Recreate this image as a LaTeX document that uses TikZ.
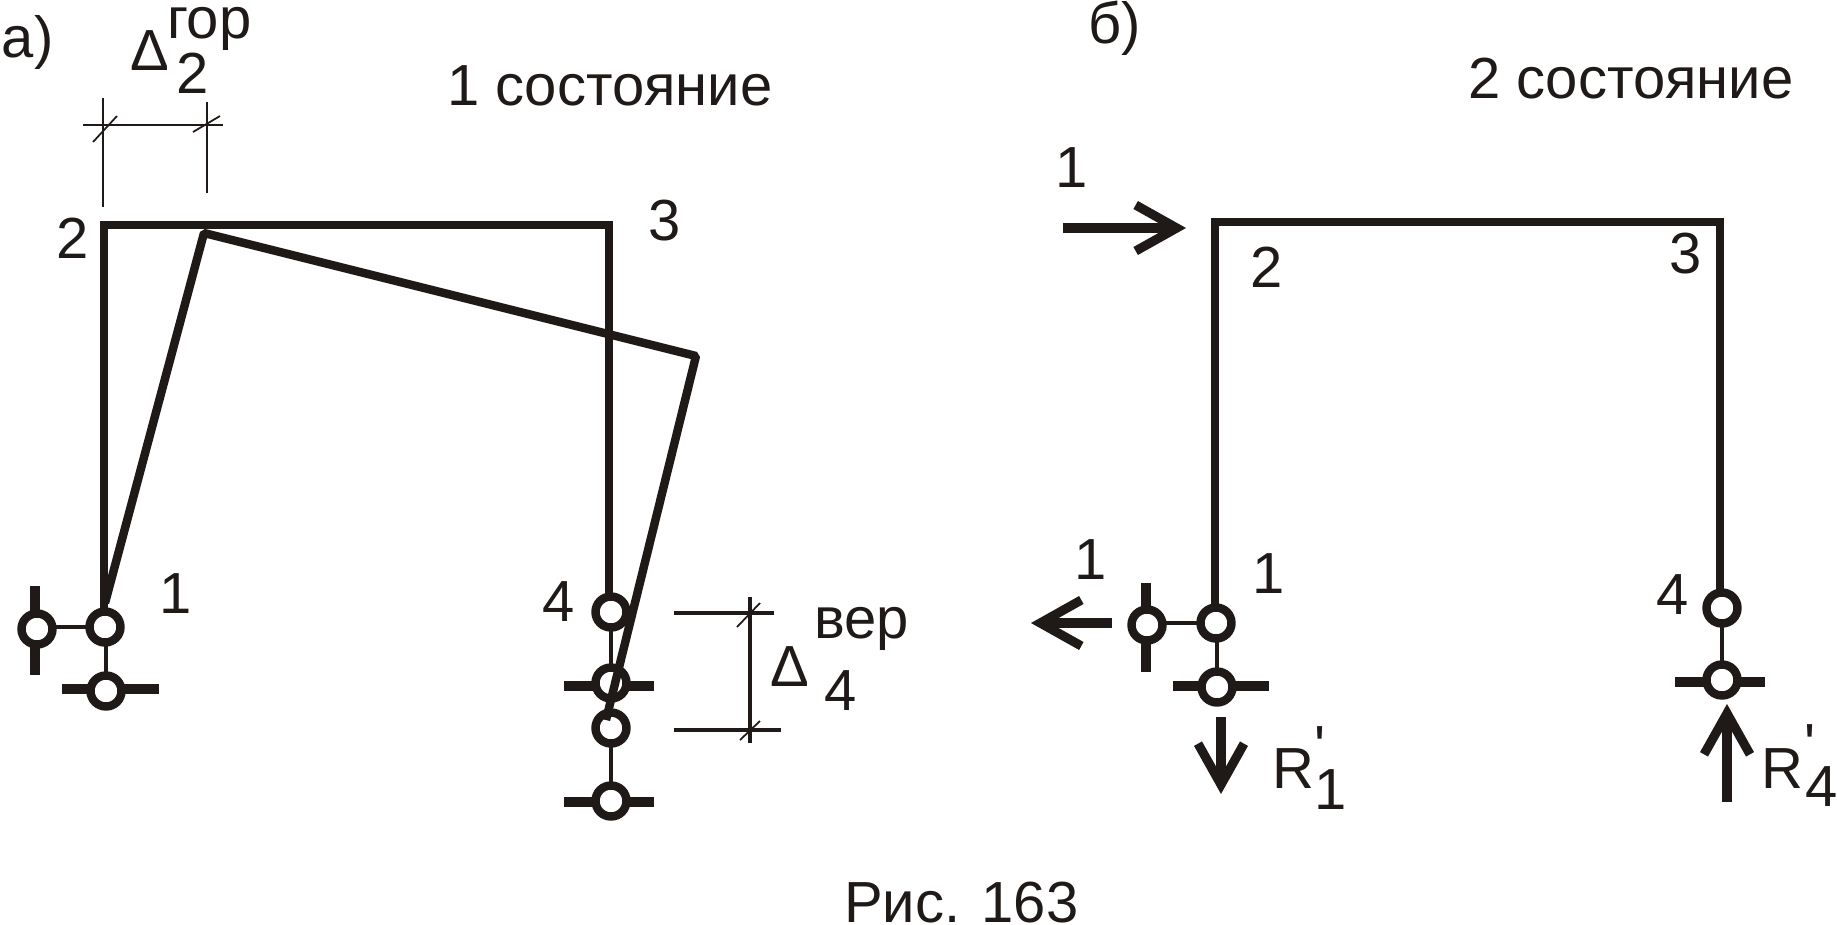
\documentclass[tikz,border=0pt]{standalone}
\usepackage{fontspec}
\newfontfamily\lblfont{Liberation Sans}
\usetikzlibrary{arrows.meta}
\definecolor{ink}{RGB}{31,26,23}
\tikzset{
  lbl/.style={anchor=base west,inner sep=0pt,outer sep=0pt,text=ink,font=\lblfont\fontsize{33}{36}\selectfont},
  frame/.style={draw=ink,line width=4.8pt,miter limit=10},
  hinge/.style={circle,draw=ink,fill=white,line width=4.8pt,minimum size=0.62cm,inner sep=0pt,outer sep=0pt},
  link/.style={draw=ink,line width=2.4pt},
  tick/.style={draw=ink,line width=5.2pt},
  dimthin/.style={draw=ink,line width=1pt},
  dimthick/.style={draw=ink,line width=2.2pt},
  force/.style={draw=ink,line width=5.2pt,-{Straight Barb[length=8.2mm,width=9.2mm]}}
}
\begin{document}
\begin{tikzpicture}[x=0.02cm,y=-0.02cm]
  \useasboundingbox (0,0) rectangle (1837,924);

  % state 1, supports
  \draw[tick] (35,586) -- (35,675);
  \draw[tick] (62,689) -- (159,689);
  \draw[tick] (564,686) -- (654,686);
  \draw[tick] (564,802) -- (654,802);
  \node[hinge] (a1) at (105,627) {};
  \node[hinge] (a1l) at (37,629) {};
  \node[hinge] (a1b) at (106,691) {};
  \node[hinge] (a4) at (611,612) {};
  \node[hinge] (a4b) at (611,683) {};
  \node[hinge] (d4) at (611,728) {};
  \node[hinge] (d4b) at (611,801) {};
  \draw[link] (a1.west) -- (a1.west -| a1l.east);
  \draw[link] (a1b.north) -- (a1b.north |- a1.south);
  \draw[link] (a4.south) -- (a4b.north);
  \draw[link] (d4.south) -- (d4b.north);

  % state 1, frame and displaced frame
  \coordinate (a2) at (104,225);
  \coordinate (a3) at (609,225);
  \coordinate (d1) at (105,603);
  \coordinate (d2) at (204,233);
  \coordinate (d3) at (696,356);
  \coordinate (d4e) at (606,720);
  \draw[frame] (a1.north -| a2) -- (a2) -- (a3) -- (a4.north -| a3);
  \draw[frame,line join=bevel] (d1) -- (d2) -- (d3) -- (d4e);

  % state 1, dimension lines
  \draw[dimthin] (83,125) -- (223,125);
  \draw[dimthin] (103,98) -- (103,207);
  \draw[dimthin] (207,102) -- (207,193);
  \draw[dimthin] (93,142) -- (117,116);
  \draw[dimthin] (193,132) -- (220,116);
  \draw[dimthick] (674,613) -- (774,613);
  \draw[dimthick] (674,730) -- (781,730);
  \draw[dimthick] (750,597) -- (750,743);
  \draw[dimthin] (737,627) -- (760,603);
  \draw[dimthin] (740,740) -- (760,721);

  % state 2, supports
  \draw[tick] (1146,583) -- (1146,672);
  \draw[tick] (1173,686) -- (1269,686);
  \draw[tick] (1675,682) -- (1765,682);
  \node[hinge] (b1) at (1216,623) {};
  \node[hinge] (b1l) at (1147,625) {};
  \node[hinge] (b1b) at (1217,687) {};
  \node[hinge] (b4) at (1722,608) {};
  \node[hinge] (b4b) at (1722,680) {};
  \draw[link] (b1.west) -- (b1.west -| b1l.east);
  \draw[link] (b1b.north) -- (b1b.north |- b1.south);
  \draw[link] (b4.south) -- (b4b.north);

  % state 2, frame
  \coordinate (b2) at (1215,222);
  \coordinate (b3) at (1720,222);
  \draw[frame] (b1.north -| b2) -- (b2) -- (b3) -- (b4.north -| b3);

  % state 2, forces
  \coordinate (f1s) at (1063,228);
  \coordinate (f1e) at (1186,228);
  \coordinate (f2s) at (1112,623);
  \coordinate (f2e) at (1031,623);
  \coordinate (f3s) at (1221,717);
  \coordinate (f3e) at (1221,794);
  \coordinate (f4s) at (1727,802);
  \coordinate (f4e) at (1727,704);
  \draw[force] (f1s) -- (f1e);
  \draw[force] (f2s) -- (f2e);
  \draw[force] (f3s) -- (f3e);
  \draw[force] (f4s) -- (f4e);

  % labels, state 1
  \node[lbl] (ta) at (2,57) {а)};
  \node[lbl] (tdg) at (130,70) {Δ};
  \node[lbl] (tgor) at (167,38) {гор};
  \node[lbl] (tdg2) at (176,93) {2};
  \node[lbl] (ts1) at (447,105) {1 состояние};
  \node[lbl] (ta2) at (56,258) {2};
  \node[lbl] (ta3) at (648,240) {3};
  \node[lbl] (ta1) at (159,613) {1};
  \node[lbl] (ta4) at (542,621) {4};
  \node[lbl] (tver) at (814,638) {вер};
  \node[lbl] (tdv) at (770,686) {Δ};
  \node[lbl] (tdv4) at (824,710) {4};

  % labels, state 2
  \node[lbl] (tb) at (1088,43) {б)};
  \node[lbl] (ts2) at (1468,98) {2 состояние};
  \node[lbl] (tf1) at (1055,187) {1};
  \node[lbl] (tb2) at (1250,287) {2};
  \node[lbl] (tb3) at (1669,273) {3};
  \node[lbl] (tf2) at (1074,579) {1};
  \node[lbl] (tb1) at (1252,593) {1};
  \node[lbl] (tb4) at (1656,614) {4};
  \node[lbl] (tr1) at (1272,788) {R};
  \node[lbl] (tr1p) at (1314,766) {'};
  \node[lbl] (tr1i) at (1314,809) {1};
  \node[lbl] (tr4) at (1761,788) {R};
  \node[lbl] (tr4p) at (1804,764) {'};
  \node[lbl] (tr4i) at (1805,806) {4};

  % caption
  \node[lbl] (cap) at (844,922) {Рис. 163};
\end{tikzpicture}
\end{document}
